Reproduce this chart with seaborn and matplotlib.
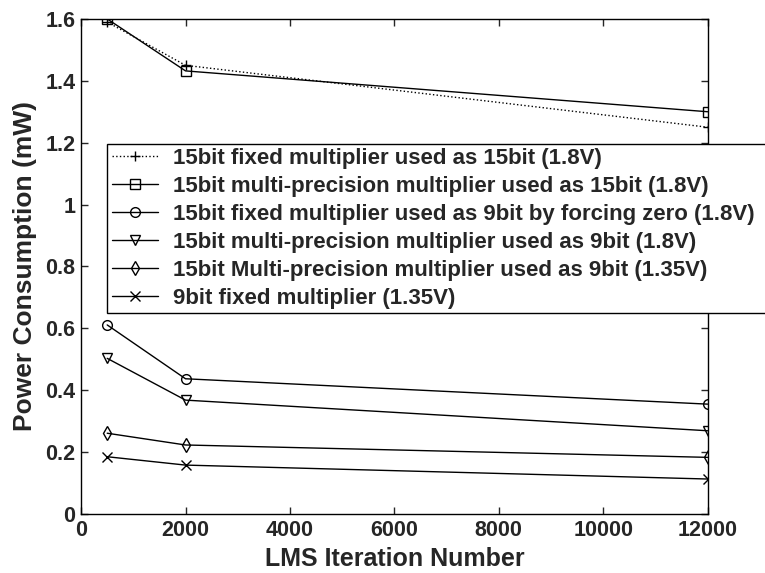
import matplotlib
matplotlib.use("Agg")
import matplotlib.pyplot as plt
import seaborn as sns
import pandas as pd

iterations = [500, 2000, 12000]
labels = [
    "15bit fixed multiplier used as 15bit (1.8V)",
    "15bit multi-precision multiplier used as 15bit (1.8V)",
    "15bit fixed multiplier used as 9bit by forcing zero (1.8V)",
    "15bit multi-precision multiplier used as 9bit (1.8V)",
    "15bit Multi-precision multiplier used as 9bit (1.35V)",
    "9bit fixed multiplier (1.35V)",
]
fixed15_as15 = [1.59, 1.45, 1.25]
multi15_as15 = [1.60, 1.432, 1.30]
fixed15_as9_zero = [0.611, 0.437, 0.355]
multi15_as9_18 = [0.503, 0.368, 0.269]
multi15_as9_135 = [0.261, 0.223, 0.183]
fixed9_135 = [0.185, 0.158, 0.113]
series = [fixed15_as15, multi15_as15, fixed15_as9_zero, multi15_as9_18, multi15_as9_135, fixed9_135]
x_ticks = [0, 2000, 4000, 6000, 8000, 10000, 12000]
y_ticks = [0, 0.2, 0.4, 0.6, 0.8, 1.0, 1.2, 1.4, 1.6]
y_ticklabels = ["0", "0.2", "0.4", "0.6", "0.8", "1", "1.2", "1.4", "1.6"]

markers = ["+", "s", "o", "v", "d", "x"]
linestyles = [":", "-", "-", "-", "-", "-"]

sns.set_style("ticks")
plt.rcParams["font.family"] = ["Liberation Sans", "DejaVu Sans"]
plt.rcParams["font.weight"] = "bold"

fig = plt.figure(figsize=(7.65, 5.73), dpi=100)
ax = fig.add_axes([0.106, 0.103, 0.819, 0.864])

for lab, vals, m, ls in zip(labels, series, markers, linestyles):
    df = pd.DataFrame({"x": iterations, "y": vals})
    sns.lineplot(data=df, x="x", y="y", ax=ax, color="black", marker=m,
                 linestyle=ls, linewidth=1.0, markersize=7,
                 markerfacecolor="none", markeredgecolor="black",
                 markeredgewidth=1.0, label=lab)

ax.set_xlim(0, 12000)
ax.set_ylim(0, 1.6)
ax.set_xticks(x_ticks)
ax.set_xticklabels([str(t) for t in x_ticks])
ax.set_yticks(y_ticks)
ax.set_yticklabels(y_ticklabels)
ax.tick_params(direction="in", top=True, right=True, length=5, width=1,
               labelsize=15.5, pad=4)
for lbl in ax.get_xticklabels() + ax.get_yticklabels():
    lbl.set_fontweight("bold")
for sp in ax.spines.values():
    sp.set_linewidth(1.0)
    sp.set_color("black")
ax.set_xlabel("LMS Iteration Number", fontsize=18, fontweight="bold", labelpad=5)
ax.set_ylabel("Power Consumption (mW)", fontsize=19, fontweight="bold", labelpad=6)

leg = ax.legend(loc="upper left", bbox_to_anchor=(0.14, 0.749, 0.88, 0),
                bbox_transform=fig.transFigure, mode="expand", fontsize=16,
                frameon=True, fancybox=False, edgecolor="black",
                framealpha=1, handlelength=2.1, borderpad=0.2,
                labelspacing=0.31, handletextpad=0.65, borderaxespad=0)
leg.get_frame().set_linewidth(1.0)
for t in leg.get_texts():
    t.set_fontweight("bold")

fig.savefig("out.png", dpi=100)
